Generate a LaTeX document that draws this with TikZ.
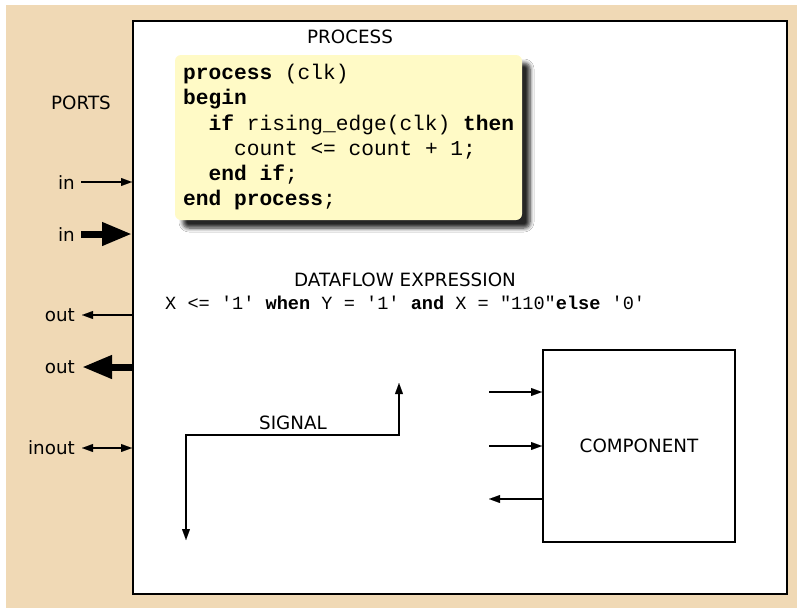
\documentclass[tikz,border=0pt]{standalone}
\usepackage{fontspec}
\setmainfont{DejaVu Sans}
\newfontfamily\codefont{Liberation Mono}
\usetikzlibrary{arrows.meta,shadows.blur}
\definecolor{beige}{HTML}{F0D9B5}
\definecolor{codeyellow}{HTML}{FFFAC6}
\tikzset{
  lbl/.style={font=\fontsize{18.3}{22}\selectfont, inner sep=0pt},
  codeline/.style={font=\codefont\fontsize{21.2}{25}\selectfont, inner sep=0pt, anchor=base west},
  exprline/.style={font=\codefont\fontsize{18.6}{22}\selectfont, inner sep=0pt, anchor=base west},
  tip/.tip={Triangle[length=11pt,width=8pt,fill=black,line width=0.1pt]},
  thin/.style={line width=1.2pt, -tip},
  thinboth/.style={line width=1.2pt, tip-tip},
  thick/.style={line width=7pt, -{Triangle[length=30pt,width=22pt,fill=black]}},
}
\begin{document}
\begin{tikzpicture}[x=1pt,y=-1pt]
\useasboundingbox (0,0) rectangle (797,608);
\fill[beige] (6,5) rectangle (797,608);
\draw[line width=2pt, fill=white] (133,21) rectangle (787,594);
% process box
\fill[codeyellow, rounded corners=6pt, blur shadow={shadow xshift=8pt, shadow yshift=-8pt, shadow blur steps=6, shadow blur radius=4pt, shadow opacity=85}] (175,55) rectangle (522,220);
\node[lbl] (proc) at (350,37) {PROCESS};
\node[codeline] (c1) at (183,79) {\textbf{process} (clk)};
\node[codeline] (c2) at (183,104.5) {\textbf{begin}};
\node[codeline] (c3) at (208.5,130) {\textbf{if} rising\_edge(clk) \textbf{then}};
\node[codeline] (c4) at (234,155) {count <= count + 1;};
\node[codeline] (c5) at (208.5,180) {\textbf{end if};};
\node[codeline] (c6) at (183,205.5) {\textbf{end process};};
% ports
\node[lbl] (ports) at (81,103) {PORTS};
\node[lbl, anchor=east] (in1) at (75,183) {in};
\node[lbl, anchor=east] (in2) at (75,235) {in};
\node[lbl, anchor=east] (out1) at (75,315) {out};
\node[lbl, anchor=east] (out2) at (75,367) {out};
\node[lbl, anchor=east] (inout) at (75,448) {inout};
\coordinate (b1) at (132,182);
\coordinate (b2) at (132,234);
\coordinate (b3) at (133,315);
\coordinate (b4) at (133,367);
\coordinate (b5) at (132,448);
\coordinate (t1) at (81,182);
\coordinate (t2) at (81,234);
\coordinate (t3) at (82,315);
\coordinate (t4) at (82,367);
\coordinate (t5) at (82,448);
\draw[thin] (t1) -- (b1);
\draw[thick] (t2) -- (b2);
\draw[thin] (b3) -- (t3);
\draw[thick] (b4) -- (t4);
\draw[thinboth] (t5) -- (b5);
% dataflow
\node[lbl] (dfl) at (405,280) {DATAFLOW EXPRESSION};
\node[exprline] (expr) at (165,309) {X <= '1' \textbf{when} Y = '1' \textbf{and} X = "110"\textbf{else} '0'};
% signal
\node[lbl] (sig) at (293,423) {SIGNAL};
\coordinate (s1) at (399,383);
\coordinate (s2) at (399,435);
\coordinate (s3) at (186,435);
\coordinate (s4) at (186,540);
\draw[thinboth] (s1) -- (s2) -- (s3) -- (s4);
% component
\node[draw, line width=2pt, minimum width=192pt, minimum height=192pt, inner sep=0pt, anchor=north west, font=\fontsize{18.3}{22}\selectfont] (comp) at (542,349) {COMPONENT};
\coordinate (a1) at (489,392);
\coordinate (a2) at (489,446);
\coordinate (a3) at (489,499);
\draw[thin] (a1) -- (a1 -| comp.west);
\draw[thin] (a2) -- (a2 -| comp.west);
\draw[thin] (a3 -| comp.west) -- (a3);
\end{tikzpicture}
\end{document}
